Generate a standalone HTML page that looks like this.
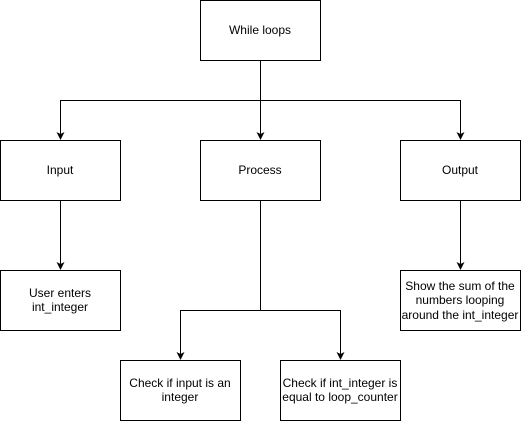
<!DOCTYPE html>
<html><head><meta charset="utf-8"><style>
html,body{margin:0;padding:0;background:#fff;width:521px;height:421px;overflow:hidden}
svg text{font-family:"Liberation Sans",Arial,sans-serif;font-size:12px;fill:#000;text-anchor:middle}
</style></head><body>
<svg width="521" height="421" viewBox="0 0 521 421" xmlns="http://www.w3.org/2000/svg">
<defs><marker id="a" markerWidth="8" markerHeight="8" refX="7" refY="4" orient="auto" markerUnits="userSpaceOnUse"><path d="M0,0 L8,4 L0,8 L2,4 z" fill="#000"/></marker></defs>
<g fill="#fff" stroke="#000" stroke-width="1">
<rect x="200.5" y="0.5" width="120" height="60"/>
<rect x="0.5" y="140.5" width="120" height="60"/>
<rect x="200.5" y="140.5" width="120" height="60"/>
<rect x="400.5" y="140.5" width="120" height="60"/>
<rect x="0.5" y="270.5" width="120" height="60"/>
<rect x="400.5" y="270.5" width="120" height="60"/>
<rect x="120.5" y="360.5" width="120" height="60"/>
<rect x="280.5" y="360.5" width="120" height="60"/>
</g>
<g fill="none" stroke="#000" stroke-width="1">
<path d="M260.5,60.5 V100.5"/>
<path d="M260.5,100.5 H60.5 V139" marker-end="url(#a)"/>
<path d="M260.5,100.5 V139" marker-end="url(#a)"/>
<path d="M260.5,100.5 H460.5 V139" marker-end="url(#a)"/>
<path d="M60.5,200.5 V269" marker-end="url(#a)"/>
<path d="M460.5,200.5 V269" marker-end="url(#a)"/>
<path d="M260.5,200.5 V310.5"/>
<path d="M260.5,310.5 H180.5 V359" marker-end="url(#a)"/>
<path d="M260.5,310.5 H340.5 V359" marker-end="url(#a)"/>
</g>
<text x="260" y="34">While loops</text>
<text x="60" y="174">Input</text>
<text x="260" y="174">Process</text>
<text x="460" y="174">Output</text>
<text x="60" y="297">User enters</text>
<text x="60" y="311">int_integer</text>
<text x="460" y="290">Show the sum of the</text>
<text x="460" y="304">numbers looping</text>
<text x="460" y="319">around the int_integer</text>
<text x="180" y="387">Check if input is an</text>
<text x="180" y="401">integer</text>
<text x="340" y="387">Check if int_integer is</text>
<text x="340" y="401">equal to loop_counter</text>
</svg>
</body></html>
